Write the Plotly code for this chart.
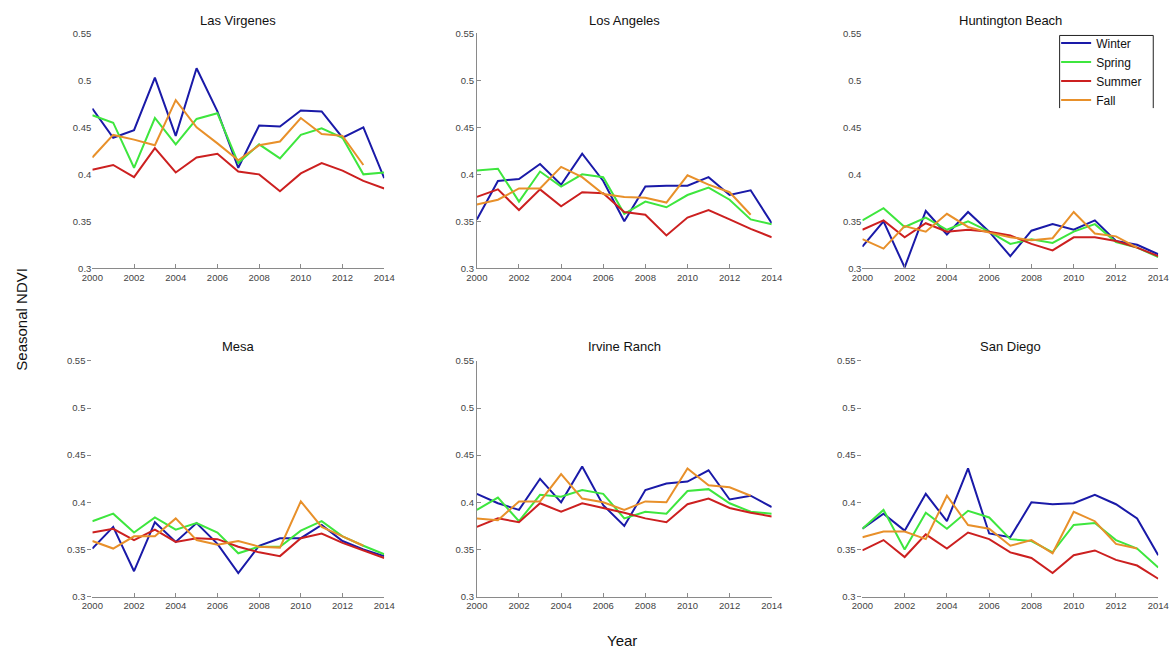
import plotly.graph_objects as go

# Years of record
years = list(range(2000, 2015))

# Seasonal mean NDVI per site (fall 2014 not yet available)
las_virgenes_winter = [0.470, 0.439, 0.447, 0.503, 0.441, 0.513, 0.467, 0.407, 0.452, 0.451, 0.468, 0.467, 0.439, 0.450, 0.396]
las_virgenes_spring = [0.463, 0.455, 0.407, 0.460, 0.432, 0.459, 0.465, 0.412, 0.432, 0.417, 0.442, 0.449, 0.439, 0.400, 0.402]
las_virgenes_summer = [0.405, 0.410, 0.397, 0.428, 0.402, 0.418, 0.422, 0.403, 0.400, 0.382, 0.401, 0.412, 0.404, 0.393, 0.385]
las_virgenes_fall = [0.418, 0.442, 0.437, 0.431, 0.479, 0.450, 0.433, 0.415, 0.431, 0.435, 0.460, 0.443, 0.441, 0.410, None]

los_angeles_winter = [0.352, 0.393, 0.395, 0.411, 0.389, 0.422, 0.393, 0.350, 0.387, 0.388, 0.388, 0.397, 0.378, 0.383, 0.348]
los_angeles_spring = [0.404, 0.406, 0.371, 0.403, 0.387, 0.400, 0.397, 0.358, 0.371, 0.365, 0.378, 0.386, 0.373, 0.352, 0.347]
los_angeles_summer = [0.376, 0.384, 0.362, 0.384, 0.366, 0.381, 0.380, 0.360, 0.357, 0.335, 0.354, 0.362, 0.352, 0.342, 0.333]
los_angeles_fall = [0.368, 0.373, 0.385, 0.385, 0.408, 0.397, 0.379, 0.376, 0.375, 0.370, 0.399, 0.389, 0.381, 0.357, None]

huntington_winter = [0.323, 0.350, 0.301, 0.361, 0.336, 0.360, 0.339, 0.313, 0.340, 0.347, 0.341, 0.351, 0.329, 0.325, 0.315]
huntington_spring = [0.351, 0.364, 0.344, 0.354, 0.341, 0.350, 0.339, 0.326, 0.331, 0.327, 0.339, 0.347, 0.328, 0.322, 0.312]
huntington_summer = [0.341, 0.351, 0.333, 0.348, 0.339, 0.341, 0.339, 0.335, 0.326, 0.319, 0.333, 0.333, 0.329, 0.322, 0.313]
huntington_fall = [0.331, 0.321, 0.345, 0.339, 0.358, 0.344, 0.338, 0.333, 0.330, 0.332, 0.360, 0.337, 0.334, 0.322, None]

mesa_winter = [0.351, 0.374, 0.327, 0.379, 0.358, 0.378, 0.356, 0.325, 0.354, 0.362, 0.362, 0.376, 0.359, 0.350, 0.343]
mesa_spring = [0.380, 0.388, 0.368, 0.384, 0.371, 0.378, 0.368, 0.346, 0.353, 0.353, 0.370, 0.380, 0.364, 0.354, 0.345]
mesa_summer = [0.368, 0.372, 0.360, 0.371, 0.358, 0.362, 0.361, 0.353, 0.347, 0.343, 0.362, 0.367, 0.357, 0.349, 0.341]
mesa_fall = [0.359, 0.351, 0.364, 0.364, 0.383, 0.360, 0.355, 0.359, 0.353, 0.352, 0.401, 0.374, 0.364, 0.354, None]

irvine_winter = [0.409, 0.399, 0.392, 0.425, 0.400, 0.438, 0.397, 0.375, 0.413, 0.420, 0.422, 0.434, 0.403, 0.407, 0.395]
irvine_spring = [0.392, 0.405, 0.380, 0.408, 0.406, 0.413, 0.409, 0.383, 0.390, 0.388, 0.412, 0.414, 0.399, 0.390, 0.388]
irvine_summer = [0.374, 0.383, 0.379, 0.399, 0.390, 0.399, 0.394, 0.389, 0.383, 0.379, 0.398, 0.404, 0.394, 0.389, 0.385]
irvine_fall = [0.383, 0.381, 0.401, 0.401, 0.430, 0.404, 0.400, 0.392, 0.401, 0.400, 0.436, 0.418, 0.416, 0.407, None]

san_diego_winter = [0.372, 0.388, 0.370, 0.409, 0.380, 0.436, 0.367, 0.363, 0.400, 0.398, 0.399, 0.408, 0.398, 0.383, 0.344]
san_diego_spring = [0.372, 0.392, 0.350, 0.389, 0.372, 0.391, 0.384, 0.361, 0.359, 0.347, 0.376, 0.378, 0.360, 0.351, 0.331]
san_diego_summer = [0.349, 0.360, 0.342, 0.366, 0.351, 0.368, 0.361, 0.347, 0.341, 0.325, 0.344, 0.349, 0.339, 0.333, 0.319]
san_diego_fall = [0.363, 0.369, 0.369, 0.361, 0.407, 0.376, 0.372, 0.354, 0.360, 0.346, 0.390, 0.380, 0.356, 0.351, None]

seasons = ["Winter", "Spring", "Summer", "Fall"]
season_colors = {"Winter": "#1a1aa8", "Spring": "#3ee63e", "Summer": "#cc2020", "Fall": "#e8902a"}

sites = [
    ("Las Virgenes", [las_virgenes_winter, las_virgenes_spring, las_virgenes_summer, las_virgenes_fall]),
    ("Los Angeles", [los_angeles_winter, los_angeles_spring, los_angeles_summer, los_angeles_fall]),
    ("Huntington Beach", [huntington_winter, huntington_spring, huntington_summer, huntington_fall]),
    ("Mesa", [mesa_winter, mesa_spring, mesa_summer, mesa_fall]),
    ("Irvine Ranch", [irvine_winter, irvine_spring, irvine_summer, irvine_fall]),
    ("San Diego", [san_diego_winter, san_diego_spring, san_diego_summer, san_diego_fall]),
]

W, H = 1172, 652

# Map target screen pixels to paper fractions; the page is displayed with a
# slight inset and shrink, which these offsets and factors undo.
X_OFF, X_SCALE = 8.35, 0.985
Y_OFF, Y_SCALE = 3.4, 0.988


def fx(px):
    return ((px - X_OFF) / X_SCALE) / W


def fy(py):
    return 1 - ((py - Y_OFF) / Y_SCALE) / H


col_px = [(90, 383), (476, 772), (863, 1160)]
row_px = [(31, 267), (360, 597)]
title_y_px = [18, 346]

y_ticks = [0.3, 0.35, 0.4, 0.45, 0.5, 0.55]
y_tick_text = ["0.3", "0.35", "0.4", "0.45", "0.5", "0.55"]
x_ticks = list(range(2000, 2015, 2))

# y-axis styling per panel
y_style = ["none", "inside", "none", "outside", "inside", "outside"]

FONT = "Liberation Sans, Arial, sans-serif"
tick_font = dict(family=FONT, size=9.5, color="#444444")

fig = go.Figure()
annotations = []

for i, (name, series) in enumerate(sites):
    r, c = divmod(i, 3)
    xa = "x" if i == 0 else f"x{i+1}"
    ya = "y" if i == 0 else f"y{i+1}"
    for season, vals in zip(seasons, series):
        fig.add_trace(go.Scatter(
            x=years, y=vals, mode="lines", name=season,
            line=dict(color=season_colors[season], width=2),
            xaxis=xa, yaxis=ya, showlegend=(i == 2), legendgroup=season,
        ))
    x0, x1 = col_px[c]
    y0, y1 = row_px[r]
    style = y_style[i]
    fig.update_layout({
        ("xaxis" if i == 0 else f"xaxis{i+1}"): dict(
            domain=[fx(x0), fx(x1)], anchor=ya, range=[2000, 2014],
            tickvals=x_ticks, ticktext=[str(t) for t in x_ticks],
            showline=True, linecolor="#8a8a8a", linewidth=1,
            ticks="inside", ticklen=4, tickcolor="#8a8a8a",
            showgrid=False, zeroline=False, tickfont=tick_font,
        ),
        ("yaxis" if i == 0 else f"yaxis{i+1}"): dict(
            domain=[fy(y1), fy(y0)], anchor=xa, range=[0.3, 0.55],
            tickvals=y_ticks, ticktext=y_tick_text,
            showline=(style == "inside"), linecolor="#8a8a8a", linewidth=1,
            ticks=("" if style == "none" else style), ticklen=4,
            tickcolor="#8a8a8a", showgrid=False, zeroline=False,
            tickfont=tick_font,
        ),
    })
    annotations.append(dict(
        text=name, x=fx((x0 + x1) / 2), y=fy(title_y_px[r]),
        xref="paper", yref="paper", showarrow=False,
        xanchor="center", yanchor="middle",
        font=dict(family=FONT, size=13, color="#111111"),
    ))

annotations.append(dict(
    text="Seasonal NDVI", x=fx(18), y=fy(318), xref="paper", yref="paper",
    showarrow=False, textangle=-90, xanchor="center", yanchor="middle",
    font=dict(family=FONT, size=15, color="#111111"),
))
annotations.append(dict(
    text="Year", x=fx(622), y=fy(641), xref="paper", yref="paper",
    showarrow=False, xanchor="center", yanchor="middle",
    font=dict(family=FONT, size=15, color="#111111"),
))

# open-bottomed frame around the legend
lx0, lx1, ly0, ly1 = fx(1061), fx(1155), fy(33), fy(106)
frame = dict(type="path", xref="paper", yref="paper",
             path=f"M {lx0} {ly1} L {lx0} {ly0} L {lx1} {ly0} L {lx1} {ly1}",
             line=dict(color="#222222", width=1))

fig.update_layout(
    width=W, height=H, margin=dict(l=0, r=0, t=0, b=0),
    plot_bgcolor="white", paper_bgcolor="white",
    annotations=annotations, shapes=[frame],
    legend=dict(x=fx(1057.5), y=fy(26), xanchor="left", yanchor="top",
                bgcolor="rgba(0,0,0,0)", borderwidth=0, tracegroupgap=0,
                font=dict(family=FONT, size=12, color="#111111"),
                itemwidth=30),
)

fig.write_html("out.html")
